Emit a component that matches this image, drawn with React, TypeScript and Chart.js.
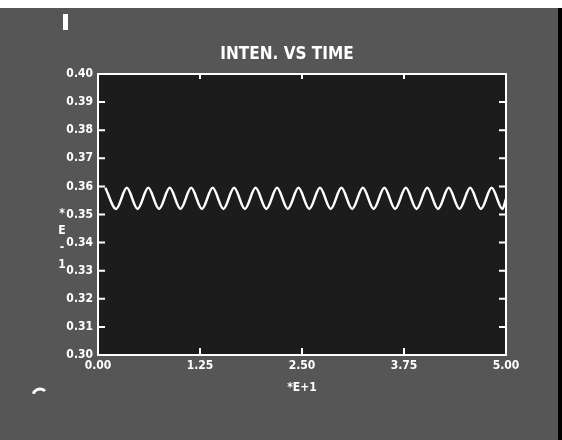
import React, { useEffect, useRef } from "react";
import { Chart, registerables } from "chart.js";

Chart.register(...registerables);

const TITLE = "INTEN. VS TIME";
const X_UNIT_LABEL = "*E+1";
const Y_UNIT_LABEL = ["*", "E", "-", "1"];
const X_MIN = 0;
const X_MAX = 5;
const X_STEP = 1.25;
const Y_MIN = 0.3;
const Y_MAX = 0.4;
const Y_STEP = 0.01;

// Time (in units of E+1) of each crest / trough of the trace
const TIME = [
  0.09, 0.222, 0.353, 0.485, 0.616, 0.748, 0.879, 1.011, 1.142, 1.274,
  1.405, 1.537, 1.668, 1.8, 1.931, 2.063, 2.194, 2.326, 2.457, 2.589,
  2.72, 2.852, 2.983, 3.115, 3.246, 3.378, 3.509, 3.641, 3.772, 3.904,
  4.035, 4.167, 4.298, 4.43, 4.561, 4.693, 4.824, 4.956, 5.0,
];
const INTEN = [
  0.3595, 0.352, 0.3595, 0.352, 0.3595, 0.352, 0.3595, 0.352, 0.3595, 0.352,
  0.3595, 0.352, 0.3595, 0.352, 0.3595, 0.352, 0.3595, 0.352, 0.3595, 0.352,
  0.3595, 0.352, 0.3595, 0.352, 0.3595, 0.352, 0.3595, 0.352, 0.3595, 0.352,
  0.3595, 0.352, 0.3595, 0.352, 0.3595, 0.352, 0.3595, 0.352, 0.3555,
];

const FONT = "'DejaVu Sans Condensed', 'DejaVu Sans', sans-serif";

const crtPlugin = {
  id: "crt",
  beforeDraw(chart: any) {
    const { ctx, width, height, chartArea } = chart;
    ctx.save();
    ctx.fillStyle = "#565656";
    ctx.fillRect(0, 0, width, height);
    ctx.fillStyle = "#ffffff";
    ctx.fillRect(0, 0, width, 8);
    ctx.fillStyle = "#000000";
    ctx.fillRect(width - 4, 8, 4, height - 8);
    ctx.fillStyle = "#1c1c1c";
    ctx.fillRect(chartArea.left, chartArea.top, chartArea.right - chartArea.left, chartArea.bottom - chartArea.top);
    ctx.restore();
  },
  afterDraw(chart: any) {
    const { ctx, chartArea } = chart;
    const xs = chart.scales.x;
    const ys = chart.scales.y;
    ctx.save();
    ctx.strokeStyle = "#ffffff";
    ctx.lineWidth = 2;
    ctx.strokeRect(chartArea.left, chartArea.top, chartArea.right - chartArea.left, chartArea.bottom - chartArea.top);
    ctx.beginPath();
    ys.ticks.forEach((t: any) => {
      if (t.value <= Y_MIN + 1e-9 || t.value >= Y_MAX - 1e-9) return;
      const py = ys.getPixelForValue(t.value);
      ctx.moveTo(chartArea.left, py);
      ctx.lineTo(chartArea.left + 7, py);
      ctx.moveTo(chartArea.right, py);
      ctx.lineTo(chartArea.right - 7, py);
    });
    xs.ticks.forEach((t: any) => {
      if (t.value <= X_MIN + 1e-9 || t.value >= X_MAX - 1e-9) return;
      const px = xs.getPixelForValue(t.value);
      ctx.moveTo(px, chartArea.bottom);
      ctx.lineTo(px, chartArea.bottom - 7);
      ctx.moveTo(px, chartArea.top);
      ctx.lineTo(px, chartArea.top + 5);
    });
    ctx.stroke();

    ctx.fillStyle = "#ffffff";
    ctx.textAlign = "center";
    ctx.textBaseline = "middle";
    ctx.font = `bold 17px ${FONT}`;
    ctx.fillText(TITLE, (chartArea.left + chartArea.right) / 2 - 15, chartArea.top - 19);

    ctx.font = `bold 12px ${FONT}`;
    Y_UNIT_LABEL.forEach((ch, i) => {
      ctx.fillText(ch, chartArea.left - 36, (chartArea.top + chartArea.bottom) / 2 - 1 + i * 17);
    });

    ctx.fillRect(63, 14, 5, 16);
    ctx.lineWidth = 3;
    ctx.beginPath();
    ctx.arc(40, 396, 7, Math.PI * 1.1, Math.PI * 1.75);
    ctx.stroke();
    ctx.restore();
  },
};

export default function App() {
  const ref = useRef<HTMLCanvasElement | null>(null);

  useEffect(() => {
    document.body.style.margin = "0";
    if (!ref.current) return;
    const points = TIME.map((t, i) => ({ x: t, y: INTEN[i] }));
    const chart = new Chart(ref.current, {
      type: "line",
      data: {
        datasets: [
          {
            data: points,
            borderColor: "#ffffff",
            borderWidth: 2.5,
            pointRadius: 0,
            cubicInterpolationMode: "monotone",
            fill: false,
          },
        ],
      },
      options: {
        animation: false,
        responsive: true,
        maintainAspectRatio: false,
        layout: { padding: { top: 74, right: 56, left: 0, bottom: 45 } },
        plugins: {
          legend: { display: false },
          tooltip: { enabled: false },
          title: { display: false },
        },
        scales: {
          x: {
            type: "linear",
            min: X_MIN,
            max: X_MAX,
            grid: { display: false, drawTicks: false },
            border: { display: false },
            ticks: {
              stepSize: X_STEP,
              color: "#ffffff",
              padding: 4,
              maxRotation: 0,
              font: { family: FONT, weight: "bold", size: 12 },
              callback: (v: any) => Number(v).toFixed(2),
            },
            title: {
              display: true,
              text: X_UNIT_LABEL,
              color: "#ffffff",
              padding: { top: 8, bottom: 0 },
              font: { family: FONT, weight: "bold", size: 12 },
            },
            afterFit: (s: any) => {
              s.height = 40;
            },
          },
          y: {
            type: "linear",
            min: Y_MIN,
            max: Y_MAX,
            grid: { display: false, drawTicks: false },
            border: { display: false },
            ticks: {
              stepSize: Y_STEP,
              color: "#ffffff",
              padding: 5,
              font: { family: FONT, weight: "bold", size: 12 },
              callback: (v: any) => Number(v).toFixed(2),
            },
            afterFit: (s: any) => {
              s.width = 98;
            },
          },
        },
      },
      plugins: [crtPlugin],
    });
    return () => chart.destroy();
  }, []);

  return (
    <div style={{ position: "relative", width: 562, height: 440 }}>
      <canvas ref={ref} />
    </div>
  );
}
